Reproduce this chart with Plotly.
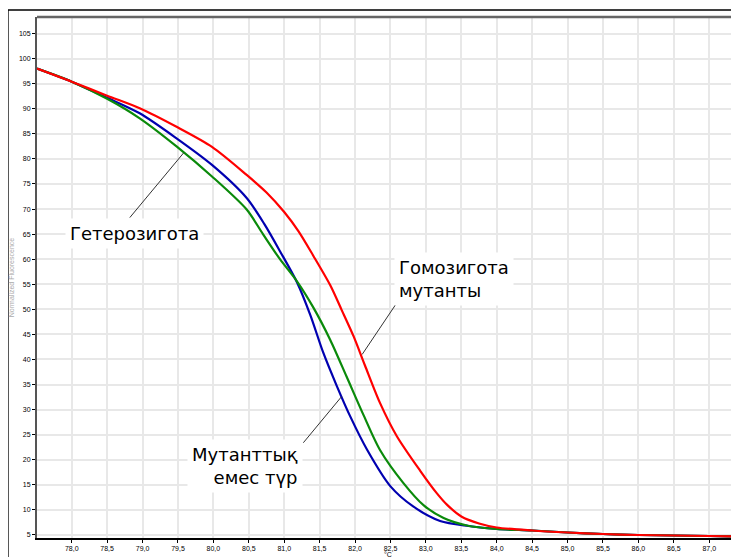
import plotly.graph_objects as go

# melt curves (temperature, normalized fluorescence)
red_t = [77.51, 78.0, 78.5, 78.96, 79.48, 79.98, 80.47, 80.75, 81.0, 81.2, 81.41, 81.65, 81.81, 81.98, 82.14,
         82.35, 82.59, 82.92, 83.15, 83.3, 83.5, 83.75, 84.0, 84.5, 85.0, 85.5, 86.0, 86.5, 87.0, 87.42]
red_f = [98.0, 95.4, 92.6, 90.1, 86.4, 82.4, 76.8, 73.3, 69.4, 65.6, 60.7, 54.8, 49.9, 44.6, 38.8,
         31.4, 24.7, 17.8, 13.4, 11.0, 8.7, 7.3, 6.5, 5.9, 5.5, 5.2, 5.0, 4.9, 4.8, 4.7]

blue_t = [77.51, 78.0, 78.5, 78.96, 79.48, 79.98, 80.47, 80.72, 80.94, 81.18, 81.37, 81.55, 81.74, 81.93,
          82.17, 82.5, 82.82, 83.2, 83.6, 84.0, 84.5, 85.0, 85.5, 86.0, 86.5, 87.0, 87.42]
blue_f = [98.0, 95.4, 92.2, 89.1, 84.1, 78.8, 72.2, 67.0, 61.6, 55.4, 48.8, 41.4, 34.8, 28.7,
          22.0, 14.7, 10.7, 7.8, 6.8, 6.2, 5.9, 5.5, 5.2, 5.0, 4.9, 4.8, 4.7]

green_t = [77.51, 78.0, 78.5, 78.96, 79.48, 79.98, 80.47, 80.7, 80.94, 81.18, 81.41, 81.65, 81.88, 82.12,
           82.35, 82.68, 82.97, 83.25, 83.58, 84.0, 84.5, 85.0, 85.5, 86.0, 86.5, 87.0, 87.42]
green_f = [98.0, 95.4, 92.0, 88.1, 82.5, 76.5, 69.9, 65.0, 60.0, 55.6, 50.4, 43.9, 36.6, 28.9,
           22.0, 15.4, 10.9, 8.4, 6.9, 6.2, 5.9, 5.5, 5.2, 5.0, 4.9, 4.8, 4.7]

x_ticks = [78.0 + 0.5 * i for i in range(19)]
y_ticks = list(range(5, 110, 5))

labels = ["Гетерозигота", "Гомозигота<br>мутанты", "Мутанттық<br>емес түр"]

fig = go.Figure()
fig.add_trace(go.Scatter(x=blue_t, y=blue_f, mode="lines", line=dict(color="#0000b0", width=2.2, shape="spline", smoothing=0.8)))
fig.add_trace(go.Scatter(x=green_t, y=green_f, mode="lines", line=dict(color="#0a8a0a", width=2.2, shape="spline", smoothing=0.8)))
fig.add_trace(go.Scatter(x=red_t, y=red_f, mode="lines", line=dict(color="#ff0000", width=2.2, shape="spline", smoothing=0.8)))

txt_font = dict(family="DejaVu Sans", size=18, color="black")
fig.add_annotation(x=78.88, y=65.1, text=labels[0], showarrow=False, font=txt_font,
                   bgcolor="white", borderpad=4)
fig.add_annotation(x=82.55, y=56.0, text=labels[1], showarrow=False, font=txt_font, align="left",
                   xanchor="left", bgcolor="white", borderpad=4)
fig.add_annotation(x=81.27, y=18.7, text=labels[2], showarrow=False, font=txt_font, align="right",
                   xanchor="right", bgcolor="white", borderpad=4)

# x axis unit, sits under the tick labels (partly below the window edge, as in the original)
fig.add_annotation(x=0.5, y=-0.0326, xref="paper", yref="paper", text="°C", showarrow=False,
                   yanchor="middle", font=dict(size=7, color="black"))

# leader lines
for x0, y0, x1, y1 in [(78.82, 68.3, 79.58, 81.2), (82.59, 51.3, 82.10, 41.0), (81.27, 23.4, 81.81, 32.6)]:
    fig.add_shape(type="line", x0=x0, y0=y0, x1=x1, y1=y1, line=dict(color="#333333", width=1))

# top border of the plot and the outer frame
fig.add_shape(type="line", xref="paper", yref="paper", x0=0, x1=1, y0=1, y1=1,
              line=dict(color="#666666", width=2.5))
fig.add_shape(type="rect", xref="paper", yref="paper", x0=-0.0413, x1=1.05, y0=-0.08, y1=1.0134,
              line=dict(color="black", width=1.3))

# the page body has an 8px margin, so the figure is sized to end at the window edge
fig.update_layout(
    width=731, height=549,
    margin=dict(l=29, r=0, t=9, b=19),
    plot_bgcolor="white", paper_bgcolor="white",
    showlegend=False,
    separators=",.",
    font=dict(family="Arial, Liberation Sans", size=7, color="black"),
)
fig.update_xaxes(range=[77.51, 87.42], tickvals=x_ticks, tickformat=".1f", automargin=False,
                 showgrid=True, gridcolor="#e8e8e8", gridwidth=1.5, zeroline=False,
                 showline=True, linecolor="black", linewidth=2,
                 ticks="outside", ticklen=3, tickcolor="black")
fig.update_yaxes(range=[4.4, 108.3], tickvals=y_ticks, automargin=False,
                 showgrid=True, gridcolor="#e8e8e8", gridwidth=1.5, zeroline=False,
                 showline=True, linecolor="#555555", linewidth=2,
                 ticks="outside", ticklen=3, tickcolor="black",
                 title=dict(text="Normalized Fluorescence", font=dict(size=7, color="#aaaaaa"), standoff=8))

fig.write_html("out.html")
